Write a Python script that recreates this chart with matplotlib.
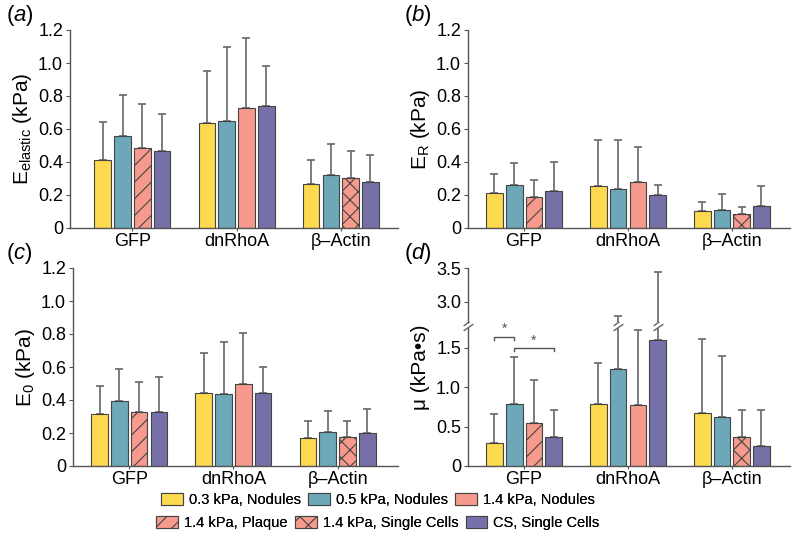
import numpy as np
import matplotlib
matplotlib.use('Agg')
import matplotlib.pyplot as plt
from matplotlib.patches import Patch
from matplotlib.transforms import blended_transform_factory

plt.rcParams['font.family'] = ['Liberation Sans', 'DejaVu Sans']
plt.rcParams['mathtext.fontset'] = 'custom'
plt.rcParams['mathtext.rm'] = 'Liberation Sans'
plt.rcParams['mathtext.it'] = 'Liberation Sans:italic'
plt.rcParams['hatch.linewidth'] = 0.8
plt.rcParams['hatch.color'] = '#444444'

groups = ['GFP', 'dnRhoA', 'β–Actin']

# condition drawn in each of the 4 slots of each group
group_conds = [
    ['0.3 Nod', '0.5 Nod', '1.4 Plaque', 'CS'],
    ['0.3 Nod', '0.5 Nod', '1.4 Nod', 'CS'],
    ['0.3 Nod', '0.5 Nod', '1.4 Single', 'CS'],
]

# mean / upper SD, rows = groups, cols = slots
e_elastic = [[0.415, 0.557, 0.486, 0.464],
             [0.638, 0.648, 0.725, 0.737],
             [0.265, 0.320, 0.304, 0.279]]
e_elastic_sd = [[0.225, 0.249, 0.263, 0.226],
                [0.315, 0.447, 0.425, 0.247],
                [0.146, 0.188, 0.164, 0.166]]

e_r = [[0.215, 0.259, 0.190, 0.225],
       [0.257, 0.235, 0.279, 0.198],
       [0.101, 0.111, 0.085, 0.134]]
e_r_sd = [[0.115, 0.136, 0.100, 0.172],
          [0.275, 0.297, 0.209, 0.065],
          [0.055, 0.093, 0.041, 0.121]]

e_0 = [[0.317, 0.396, 0.327, 0.325],
       [0.442, 0.434, 0.497, 0.440],
       [0.172, 0.206, 0.176, 0.200]]
e_0_sd = [[0.170, 0.192, 0.180, 0.214],
          [0.243, 0.315, 0.309, 0.160],
          [0.101, 0.125, 0.097, 0.143]]

mu = [[0.298, 0.784, 0.541, 0.371],
      [0.784, 1.236, 0.775, 1.602],
      [0.669, 0.618, 0.362, 0.251]]
mu_sd = [[0.367, 0.592, 0.549, 0.336],
         [0.524, 1.554, 0.955, 1.838],
         [0.937, 0.782, 0.354, 0.465]]

# significance: (group, slot a, slot b, height)
mu_sig = [(0, 0, 1, 1.64), (0, 1, 3, 1.50)]

styles = {
    '0.3 Nod':    dict(color='#fdd94f', hatch=None, label='0.3 kPa, Nodules'),
    '0.5 Nod':    dict(color='#6ca8b8', hatch=None, label='0.5 kPa, Nodules'),
    '1.4 Nod':    dict(color='#f59a8c', hatch=None, label='1.4 kPa, Nodules'),
    '1.4 Plaque': dict(color='#f59a8c', hatch='//', label='1.4 kPa, Plaque'),
    '1.4 Single': dict(color='#f59a8c', hatch='xx', label='1.4 kPa, Single Cells'),
    'CS':         dict(color='#7670a8', hatch=None, label='CS, Single Cells'),
}

EDGE = '#444444'
ERR = '#666666'
TICK_FS = 13
LABEL_FS = 15
pitch = 0.19
width = 0.16
W, H = 800, 551

fig = plt.figure(figsize=(8, 5.51), dpi=100)


def px_axes(x0, x1, ytop, ybot):
    return fig.add_axes([x0 / W, 1 - ybot / H, (x1 - x0) / W, (ybot - ytop) / H])


def slot_x(g, s):
    return g + (s - 1.5) * pitch


def draw_bars(ax, means, sds):
    for g in range(len(groups)):
        for s in range(4):
            st = styles[group_conds[g][s]]
            x = slot_x(g, s)
            ax.bar(x, means[g][s], width, color=st['color'], edgecolor=EDGE,
                   linewidth=0.8, hatch=st['hatch'], zorder=2)
            ax.errorbar(x, means[g][s], yerr=[[0], [sds[g][s]]], fmt='none',
                        ecolor=ERR, elinewidth=1.2, capsize=3, capthick=1.2, zorder=1)


def style_axes(ax, xlim, bottom=True):
    ax.set_xlim(*xlim)
    for sp in ['top', 'right']:
        ax.spines[sp].set_visible(False)
    for sp in ['left', 'bottom']:
        ax.spines[sp].set_color('#555555')
        ax.spines[sp].set_linewidth(1.0)
    ax.tick_params(axis='y', length=3, width=0.8, color='#555555', labelsize=TICK_FS, pad=2)
    if bottom:
        ax.set_xticks(range(len(groups)))
        ax.set_xticklabels(groups, fontsize=TICK_FS)
        ax.tick_params(axis='x', length=2.5, width=0.8, color='#555555', pad=1)
    else:
        ax.spines['bottom'].set_visible(False)
        ax.set_xticks([])


def fmt(v):
    return '0' if v == 0 else f'{v:.1f}'


def panel_label(x, y, letter):
    fig.text(x / W, 1 - y / H, '($\\mathit{%s}$)' % letter, fontsize=16, va='center', ha='left')


yt = [0, 0.2, 0.4, 0.6, 0.8, 1.0, 1.2]

ax_a = px_axes(70, 398, 30, 228)
draw_bars(ax_a, e_elastic, e_elastic_sd)
style_axes(ax_a, (-0.6, 2.55))
ax_a.set_ylim(0, 1.2)
ax_a.set_yticks(yt, [fmt(v) for v in yt])
ax_a.set_ylabel('E$_{\\mathregular{elastic}}$ (kPa)', fontsize=LABEL_FS, labelpad=3)

ax_b = px_axes(468, 790, 30, 228)
draw_bars(ax_b, e_r, e_r_sd)
style_axes(ax_b, (-0.54, 2.56))
ax_b.set_ylim(0, 1.2)
ax_b.set_yticks(yt, [fmt(v) for v in yt])
ax_b.set_ylabel('E$_{\\mathregular{R}}$ (kPa)', fontsize=LABEL_FS, labelpad=3)

ax_c = px_axes(73, 398, 268, 466)
draw_bars(ax_c, e_0, e_0_sd)
style_axes(ax_c, (-0.54, 2.58))
ax_c.set_ylim(0, 1.2)
ax_c.set_yticks(yt, [fmt(v) for v in yt])
ax_c.set_ylabel('E$_{\\mathregular{0}}$ (kPa)', fontsize=LABEL_FS, labelpad=3)

# panel d: broken y axis
ax_dl = px_axes(468, 790, 328, 466)
ax_du = px_axes(468, 790, 268, 322)
for ax in (ax_dl, ax_du):
    draw_bars(ax, mu, mu_sd)
style_axes(ax_dl, (-0.54, 2.56))
style_axes(ax_du, (-0.54, 2.56), bottom=False)
ax_dl.set_ylim(0, 1.75)
ax_dl.set_yticks([0, 0.5, 1.0, 1.5], [fmt(v) for v in [0, 0.5, 1.0, 1.5]])
ax_du.set_ylim(2.7, 3.5)
ax_du.set_yticks([3.0, 3.5], ['3.0', '3.5'])
fig.text(420 / W, 1 - 367 / H, 'μ (kPa•s)', rotation=90, fontsize=LABEL_FS, ha='center', va='center')

# break marks on the spine and on the broken error bars
brk = [(-1, -0.7), (1, 0.7)]
tr = blended_transform_factory(ax_dl.transData, ax_dl.transAxes)
break_x = [ax_dl.get_xlim()[0]]
for g in range(len(groups)):
    for s in range(4):
        if mu[g][s] + mu_sd[g][s] > ax_dl.get_ylim()[1]:
            break_x.append(slot_x(g, s))
for x in break_x:
    for dy in (1.005, 1.04):
        ax_dl.plot([x], [dy], marker=brk, markersize=7, linestyle='none',
                   color=ERR, mew=1.0, transform=tr, clip_on=False, zorder=5)

for g, a, b, h in mu_sig:
    xa, xb = slot_x(g, a), slot_x(g, b)
    ax_dl.plot([xa, xa, xb, xb], [h - 0.04, h, h, h - 0.04], color='#555555', lw=1.0, zorder=3)
    ax_dl.text((xa + xb) / 2, h + 0.005, '*', ha='center', va='bottom', fontsize=10, color='#555555')

panel_label(6, 16, 'a')
panel_label(404, 16, 'b')
panel_label(6, 254, 'c')
panel_label(404, 254, 'd')

# legend: two rows of three
row1 = ['0.3 Nod', '0.5 Nod', '1.4 Nod']
row2 = ['1.4 Plaque', '1.4 Single', 'CS']
for i, row in enumerate([row1, row2]):
    handles = [Patch(facecolor=styles[k]['color'], edgecolor=EDGE, linewidth=0.8,
                     hatch=styles[k]['hatch'], label=styles[k]['label']) for k in row]
    leg = fig.legend(handles=handles, ncol=3, loc='center', frameon=False,
                     bbox_to_anchor=(378 / W, 1 - (500 + 23 * i) / H), fontsize=10.5,
                     handlelength=1.5, handleheight=0.8, handletextpad=0.4,
                     columnspacing=0.5, borderpad=0)
    fig.add_artist(leg)

fig.savefig('out.png', dpi=100)
